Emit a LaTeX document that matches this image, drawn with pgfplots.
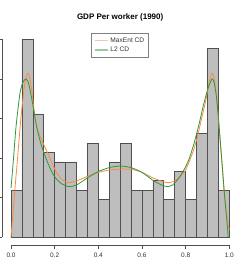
\documentclass[border=0pt]{standalone}
\usepackage{pgfplots}
\pgfplotsset{compat=1.18}
\usepackage{fontspec}
\setmainfont{Liberation Sans}
\definecolor{barfill}{HTML}{BEBEBE}
\definecolor{bardraw}{HTML}{505050}
\definecolor{maxent}{HTML}{FF8A3D}
\definecolor{ltwo}{HTML}{2E9A3A}
\begin{document}
\begin{tikzpicture}
\begin{axis}[
  at={(0,0)}, anchor=south west,
  scale only axis,
  width=235.7pt, height=213.8pt,
  xmin=-0.04, xmax=1.04, ymin=-0.1, ymax=2.6,
  axis line style={draw=none},
  xtick={0,0.2,0.4,0.6,0.8,1.0},
  xticklabels={0.0,0.2,0.4,0.6,0.8,1.0},
  ytick={0,0.5,1,1.5,2,2.5},
  yticklabels={},
  xtick pos=lower, ytick pos=left,
  tick align=outside,
  major tick length=3.5pt,
  tick style={color=bardraw, line width=0.5pt},
  ticklabel style={font=\fontsize{6.5}{7}\selectfont, text=black!80},
  xticklabel style={yshift=-1pt},
  /pgf/number format/assume math mode=true,
  legend style={at={(0.5,1)}, anchor=north, yshift=-2pt,
    draw=gray, line width=0.5pt, font=\fontsize{6.6}{8}\selectfont,
    inner xsep=2.5pt, inner ysep=2pt, row sep=-1pt, text=black!80},
  legend cell align=left,
  legend image code/.code={\draw[#1, opacity=0.5, line width=1.4pt] (0pt,0pt) -- (13pt,0pt);},
  clip=false,
]
\addplot[ybar interval, fill=barfill, draw=bardraw, line width=0.6pt, forget plot] coordinates {
(0.00,0.5952) (0.05,2.5000) (0.10,1.5476) (0.15,1.0714) (0.20,0.9524)
(0.25,0.9524) (0.30,0.5952) (0.35,1.1905) (0.40,0.4762) (0.45,0.9524)
(0.50,1.1905) (0.55,0.5952) (0.60,0.5952) (0.65,0.7143) (0.70,0.4762)
(0.75,0.8333) (0.80,0.4762) (0.85,1.3095) (0.90,2.3810) (0.95,0.5952)
(1.00,0.5952)};
\addplot[maxent, line width=0.8pt, smooth, tension=0.4] coordinates {
(0.000,0.00) (0.015,0.52) (0.030,1.00) (0.045,1.50) (0.060,1.88) (0.070,2.03)
(0.077,2.07) (0.085,2.02) (0.095,1.85) (0.105,1.62) (0.115,1.43) (0.125,1.33)
(0.150,1.17) (0.170,1.05) (0.190,0.92) (0.210,0.81) (0.230,0.74) (0.250,0.70)
(0.270,0.69) (0.300,0.71) (0.350,0.77) (0.400,0.82) (0.450,0.85) (0.500,0.86)
(0.550,0.86) (0.600,0.82) (0.650,0.75) (0.700,0.70) (0.720,0.69) (0.750,0.71)
(0.775,0.77) (0.800,0.85) (0.820,0.98) (0.840,1.13) (0.860,1.34) (0.880,1.58)
(0.890,1.70) (0.900,1.84) (0.910,1.98) (0.920,2.07) (0.930,2.02) (0.940,1.82)
(0.950,1.50) (0.960,1.15) (0.970,0.82) (0.977,0.56) (0.985,0.36) (0.992,0.20) (1.000,0.09)};
\addlegendentry{MaxEnt CD}
\addplot[ltwo, line width=0.8pt, smooth, tension=0.4] coordinates {
(0.000,0.62) (0.010,0.95) (0.023,1.40) (0.041,1.82) (0.055,1.96) (0.069,2.00)
(0.080,1.95) (0.090,1.82) (0.100,1.67) (0.115,1.43) (0.130,1.25) (0.150,1.07)
(0.170,0.93) (0.190,0.81) (0.210,0.73) (0.230,0.68) (0.250,0.65) (0.270,0.64)
(0.300,0.66) (0.350,0.75) (0.400,0.83) (0.450,0.88) (0.500,0.90) (0.550,0.88)
(0.600,0.82) (0.650,0.72) (0.690,0.66) (0.715,0.64) (0.740,0.66) (0.770,0.75)
(0.800,0.89) (0.820,1.02) (0.840,1.20) (0.860,1.41) (0.880,1.65) (0.900,1.86)
(0.915,1.97) (0.922,2.00) (0.930,1.96) (0.940,1.80) (0.950,1.52) (0.960,1.18)
(0.970,0.82) (0.980,0.48) (0.990,0.18) (0.995,0.00)};
\addlegendentry{L2 CD}
\draw[bardraw, line width=0.5pt] (axis cs:0,-0.1) -- (axis cs:1,-0.1);
\draw[bardraw, line width=0.5pt] (axis cs:-0.04,0) -- (axis cs:-0.04,2.5);
\end{axis}
\node[font=\bfseries\fontsize{8}{9}\selectfont] at (117.85pt,228.2pt) {GDP Per worker (1990)};
\pgfresetboundingbox
\useasboundingbox (-2.3pt,-33.8pt) rectangle (244.7pt,245.2pt);
\end{tikzpicture}
\end{document}
